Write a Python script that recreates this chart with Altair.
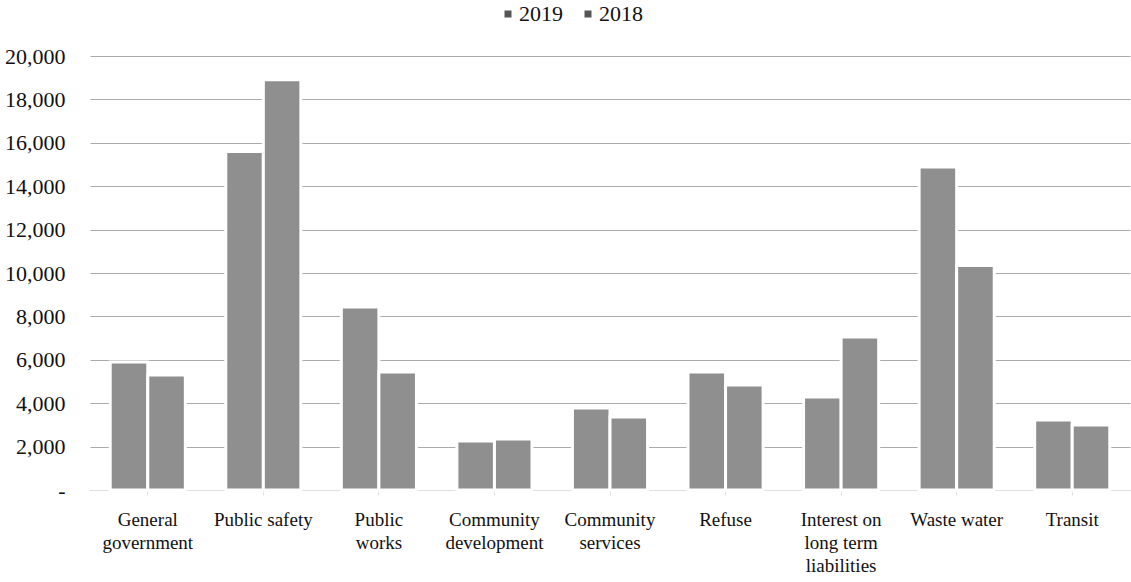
import altair as alt
import pandas as pd

categories = ["General|government", "Public safety", "Public|works", "Community|development",
              "Community|services", "Refuse", "Interest on|long term|liabilities",
              "Waste water", "Transit"]
values_2019 = [5900, 15600, 8430, 2260, 3780, 5440, 4290, 14880, 3230]
values_2018 = [5300, 18900, 5440, 2350, 3360, 4840, 7050, 10340, 3000]
series = ["2019", "2018"]

rows = []
for c, a, b in zip(categories, values_2019, values_2018):
    rows.append({"category": c, "year": "2019", "value": a})
    rows.append({"category": c, "year": "2018", "value": b})
df = pd.DataFrame(rows)
legend_df = pd.DataFrame({"series": series})

FONT = "'Liberation Serif', 'DejaVu Serif', serif"

bars = alt.Chart(df).mark_bar(stroke="white", strokeWidth=3, color="#8f8f8f").encode(
    x=alt.X("category:N", sort=categories, title=None,
            scale=alt.Scale(paddingInner=0.35, paddingOuter=0.175),
            axis=alt.Axis(labelAngle=0, labelExpr="split(datum.label, '|')",
                          labelFont=FONT, labelFontSize=19, labelColor="#111",
                          labelPadding=15, labelLineHeight=23, grid=False,
                          domainColor="#e0e0e0", tickColor="#e0e0e0", tickSize=5,
                          labelBaseline="top")),
    xOffset=alt.XOffset("year:N", sort=series),
    y=alt.Y("value:Q", title=None,
            scale=alt.Scale(domain=[0, 20000], nice=False),
            axis=alt.Axis(values=list(range(0, 20001, 2000)),
                          labelExpr="datum.value == 0 ? '-' : format(datum.value, ',')",
                          labelFont=FONT, labelFontSize=22, labelColor="#111",
                          labelPadding=25, ticks=False, domain=False,
                          gridColor="#ababab", gridWidth=1.2)),
)

legend_layer = alt.Chart(legend_df).mark_square(opacity=0).encode(
    color=alt.Color("series:N", sort=series,
                    scale=alt.Scale(domain=series, range=["#555555", "#555555"]),
                    legend=alt.Legend(title=None, orient="none", direction="horizontal",
                                      legendX=407, legendY=-53,
                                      symbolType="square", symbolSize=49,
                                      symbolOpacity=1, symbolStrokeWidth=0,
                                      labelFont=FONT, labelFontSize=22, labelColor="#111",
                                      columnPadding=14, labelOffset=0)),
)

chart = alt.layer(bars, legend_layer).properties(
    width=1040, height=434,
    autosize=alt.AutoSizeParams(type="none"),
    padding={"left": 90, "top": 56, "right": 1, "bottom": 92},
    view=alt.ViewBackground(stroke="transparent", strokeOpacity=0),
).configure(background="white", font=FONT).configure_view(
    stroke="transparent", strokeOpacity=0
)

chart.save("out.html", embed_options={"renderer": "svg", "actions": False})
